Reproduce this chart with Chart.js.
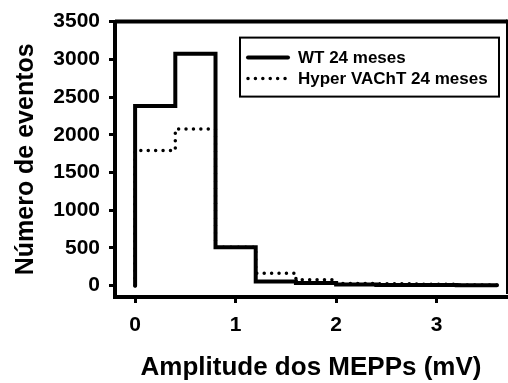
<!DOCTYPE html>
<html>
<head>
<meta charset="utf-8">
<script src="https://cdn.jsdelivr.net/npm/chart.js@4.4.0/dist/chart.umd.min.js"></script>
<style>
  body { margin: 0; background: #fff; }
  canvas { display: block; }
</style>
</head>
<body>
<canvas id="histChart" width="508" height="383"></canvas>
<script>
// bin edges of the amplitude histogram (mV)
var binEdges = [0, 0.4, 0.8, 1.2, 1.6, 2.0, 2.4, 2.8, 3.2, 3.6];
// counts per bin
var wtCounts = [2380, 3075, 510, 55, 35, 15, 10, 8, 5];
var hyperCounts = [1790, 2075, 510, 165, 80, 30, 25, 20, 8];
var seriesLabels = ['WT 24 meses', 'Hyper VAChT 24 meses'];
var xTicks = [0, 1, 2, 3];
var yTicks = [0, 500, 1000, 1500, 2000, 2500, 3000, 3500];

var FONT = "'Liberation Sans', Arial, sans-serif";

// turn bin counts into step points (start at 0 so the first edge is drawn)
function stepPoints(counts) {
    var pts = [{ x: binEdges[0], y: 0 }];
    for (var i = 0; i < counts.length; i++) {
        pts.push({ x: binEdges[i], y: counts[i] });
    }
    pts.push({ x: binEdges[counts.length], y: counts[counts.length - 1] });
    return pts;
}

// frame (top + right border) and the boxed legend
var framePlugin = {
    id: 'frame',
    afterDatasetsDraw: function(chart) {
        var ctx = chart.ctx;
        var a = chart.chartArea;
        ctx.save();
        ctx.strokeStyle = '#000';
        ctx.lineWidth = 4;
        ctx.beginPath();
        ctx.moveTo(a.left, a.top);
        ctx.lineTo(a.right, a.top);
        ctx.stroke();
        ctx.lineWidth = 2;
        ctx.beginPath();
        ctx.moveTo(a.right, a.top - 2);
        ctx.lineTo(a.right, a.bottom - 3);
        ctx.stroke();

        // legend
        var lx = a.right - 267, ly = a.top + 16;
        ctx.lineWidth = 2;
        ctx.strokeRect(lx, ly, 259, 59);
        ctx.font = 'bold 17px ' + FONT;
        ctx.textBaseline = 'middle';
        ctx.fillStyle = '#000';
        for (var i = 0; i < chart.data.datasets.length; i++) {
            var ds = chart.data.datasets[i];
            var y = ly + 20 + i * 21;
            ctx.lineWidth = ds.borderWidth;
            ctx.lineCap = 'round';
            ctx.setLineDash(ds.borderDash || []);
            ctx.beginPath();
            ctx.moveTo(lx + 8, y);
            ctx.lineTo(lx + 48, y);
            ctx.stroke();
            ctx.setLineDash([]);
            ctx.fillText(ds.label, lx + 58, y + 1);
        }
        ctx.restore();
    }
};

function plainTick(value) {
    return String(value);
}

const ctx = document.getElementById('histChart');

const config = {
    type: 'line',
    data: {
        datasets: [
            {
                label: seriesLabels[0],
                data: stepPoints(wtCounts),
                stepped: 'before',
                borderColor: '#000',
                borderWidth: 4,
                borderCapStyle: 'round',
                borderJoinStyle: 'miter',
                pointRadius: 0,
                fill: false,
                order: 1
            },
            {
                label: seriesLabels[1],
                data: stepPoints(hyperCounts),
                stepped: 'before',
                borderColor: '#000',
                borderWidth: 3.5,
                borderDash: [0.01, 7.4],
                borderCapStyle: 'round',
                pointRadius: 0,
                fill: false,
                order: 2
            }
        ]
    },
    options: {
        responsive: false,
        animation: false,
        layout: { padding: { top: 20, right: 1, left: 0, bottom: 0 } },
        plugins: {
            legend: { display: false },
            tooltip: { enabled: false }
        },
        scales: {
            x: {
                type: 'linear',
                min: -0.2,
                max: 3.7,
                afterFit: function(scale) { scale.height = 86; },
                afterBuildTicks: function(scale) {
                    scale.ticks = xTicks.map(function(v) { return { value: v }; });
                },
                grid: { drawOnChartArea: false, drawTicks: true, tickLength: 6, tickWidth: 3, color: '#000' },
                border: { display: true, width: 4, color: '#000' },
                ticks: {
                    color: '#000',
                    padding: 10,
                    callback: plainTick,
                    font: { family: FONT, size: 21, weight: 'bold' }
                },
                title: {
                    display: true,
                    text: 'Amplitude dos MEPPs (mV)',
                    color: '#000',
                    padding: { top: 0, bottom: 0 },
                    font: { family: FONT, size: 26, weight: 'bold' }
                }
            },
            y: {
                min: -150,
                max: 3500,
                afterFit: function(scale) { scale.width = 115; },
                afterBuildTicks: function(scale) {
                    scale.ticks = yTicks.map(function(v) { return { value: v }; });
                },
                grid: { drawOnChartArea: false, drawTicks: true, tickLength: 6, tickWidth: 3, color: '#000' },
                border: { display: true, width: 4, color: '#000' },
                ticks: {
                    color: '#000',
                    padding: 9,
                    callback: plainTick,
                    font: { family: FONT, size: 21, weight: 'bold' }
                },
                title: {
                    display: true,
                    text: 'Número de eventos',
                    color: '#000',
                    padding: { top: 11, bottom: 0 },
                    font: { family: FONT, size: 25, weight: 'bold' }
                }
            }
        }
    },
    plugins: [framePlugin]
};

var histChart = new Chart(ctx, config);
</script>
</body>
</html>
